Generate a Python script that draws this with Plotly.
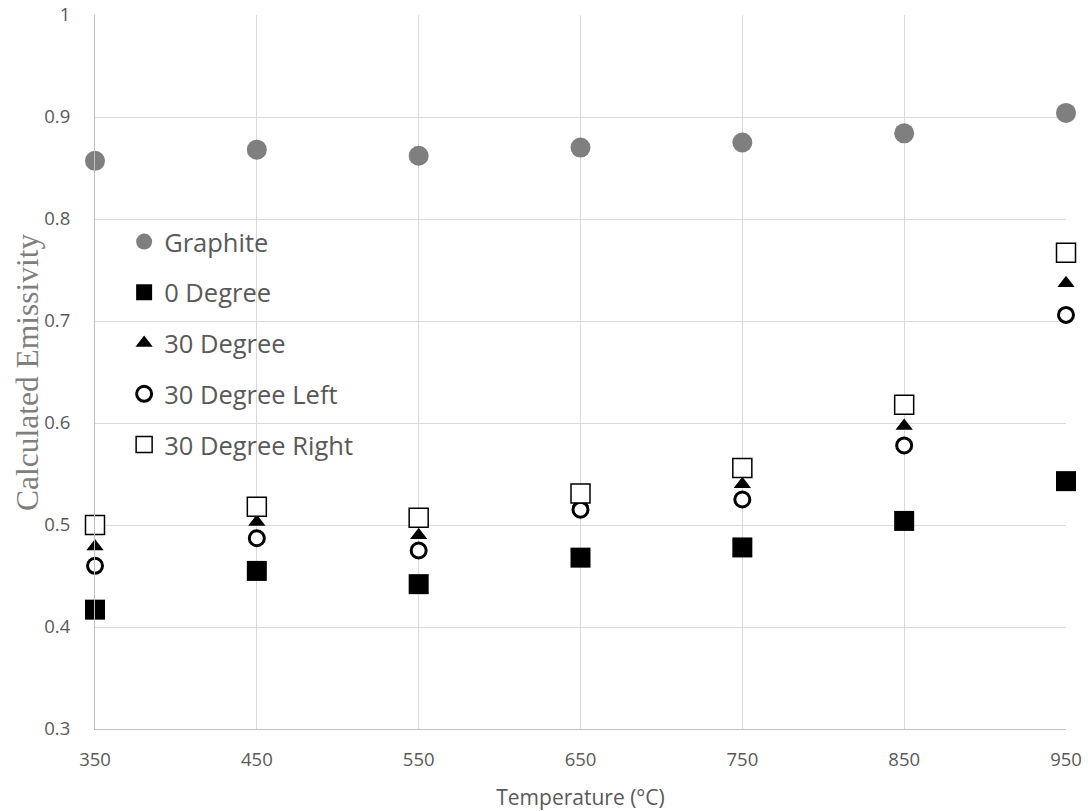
import plotly.graph_objects as go

temps = [350, 450, 550, 650, 750, 850, 950]

graphite = [0.857, 0.868, 0.862, 0.870, 0.875, 0.884, 0.904]
deg_0 = [0.417, 0.455, 0.442, 0.468, 0.478, 0.504, 0.543]
deg_30 = [0.479, 0.503, 0.490, 0.522, 0.540, 0.597, 0.737]
deg_30_left = [0.460, 0.487, 0.475, 0.515, 0.525, 0.578, 0.706]
deg_30_right = [0.500, 0.518, 0.507, 0.531, 0.556, 0.618, 0.767]

x_ticks = [350, 450, 550, 650, 750, 850, 950]
y_ticks = [0.3, 0.4, 0.5, 0.6, 0.7, 0.8, 0.9, 1]
y_tick_labels = ["0.3", "0.4", "0.5", "0.6", "0.7", "0.8", "0.9", "1"]

series = [
    ("Graphite", graphite, dict(symbol="circle", size=20, color="#7f7f7f")),
    ("0 Degree", deg_0, dict(symbol="square", size=20, color="black")),
    ("30 Degree", deg_30, dict(symbol="triangle-up", size=15, color="black")),
    ("30 Degree Left", deg_30_left,
     dict(symbol="circle", size=15, color="white", line=dict(color="black", width=3))),
    ("30 Degree Right", deg_30_right,
     dict(symbol="square", size=19, color="white", line=dict(color="black", width=1.5))),
]

fig = go.Figure()
for name, vals, marker in series:
    fig.add_trace(go.Scatter(x=temps, y=vals, mode="markers", name=name,
                             legendgroup=name, marker=marker, cliponaxis=False))

tick_font = dict(family="Open Sans, sans-serif", size=18.5, color="#595959")

fig.update_xaxes(
    range=[350, 950], tickvals=x_ticks, showgrid=True, gridcolor="#d9d9d9",
    showline=True, linecolor="#bfbfbf", linewidth=1, zeroline=False,
    ticks="", tickfont=tick_font, ticklabelstandoff=14, automargin=False,
    title=dict(text="Temperature (°C)", font=dict(family="Open Sans, sans-serif",
                                                   size=21, color="#595959"), standoff=22),
)
fig.update_yaxes(
    range=[0.3, 1], tickvals=y_ticks, ticktext=y_tick_labels, showgrid=True,
    gridcolor="#d9d9d9", showline=True, linecolor="#bfbfbf", linewidth=1,
    zeroline=False, ticks="", tickfont=tick_font, ticklabelstandoff=20, automargin=False,
)

# y title as an annotation so it can sit exactly where the reference has it
fig.add_annotation(
    text="Calculated Emissivity", textangle=-90, showarrow=False,
    xref="paper", yref="paper", x=-0.07, y=0.5, xanchor="center", yanchor="middle",
    font=dict(family="Liberation Serif, serif", size=31.5, color="#7f7f7f"),
)

fig.update_layout(
    width=1088, height=811,
    margin=dict(l=95, r=22, t=15, b=82),
    plot_bgcolor="white", paper_bgcolor="white",
    legend=dict(x=0.03, y=0.715, xanchor="left", yanchor="top",
                bgcolor="rgba(0,0,0,0)", traceorder="grouped", tracegroupgap=14.6,
                font=dict(family="Open Sans, sans-serif", size=25.5, color="#595959"),
                itemwidth=30),
)

fig.write_html("out.html", config={"displayModeBar": False},
               post_script="document.body.style.margin='0';"
                           "document.body.style.overflow='hidden';")
